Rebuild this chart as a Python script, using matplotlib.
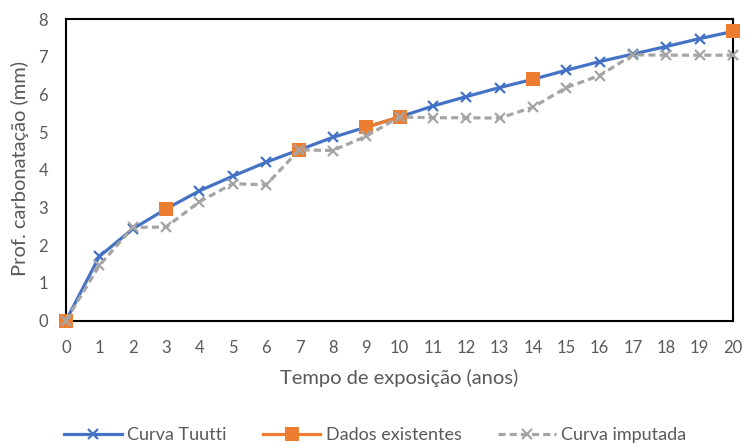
import numpy as np
import matplotlib
matplotlib.use("Agg")
import matplotlib.pyplot as plt

plt.rcParams['font.family'] = ['Lato', 'DejaVu Sans']

# exposure time (years)
anos = list(range(0, 21))

# Tuutti model curve
tuutti = [0.0, 1.70, 2.43, 2.96, 3.44, 3.83, 4.20, 4.53, 4.86, 5.13, 5.40,
          5.69, 5.94, 6.18, 6.40, 6.64, 6.87, 7.07, 7.27, 7.48, 7.67]

# measured data (missing years left empty)
nan = np.nan
existentes = [0.0, nan, nan, 2.96, nan, nan, nan, 4.53, nan, 5.13, 5.40,
              nan, nan, nan, 6.40, nan, nan, nan, nan, nan, 7.67]

# imputed curve
imputada = [0.0, 1.46, 2.47, 2.48, 3.15, 3.63, 3.60, 4.53, 4.51, 4.89, 5.40,
            5.38, 5.38, 5.37, 5.66, 6.18, 6.50, 7.05, 7.04, 7.04, 7.04]

BLUE = '#4472C4'
ORANGE = '#ED7D31'
GRAY = '#A5A5A5'
TXT = '#595959'

W, H = 745, 443
fig = plt.figure(figsize=(W/100, H/100), dpi=100)
ax = fig.add_axes([66/W, 1-320.5/H, 667/W, 301.5/H])

ax.plot(anos, tuutti, color=BLUE, lw=2.3, marker='x', ms=7, mew=1.6,
        label='Curva Tuutti', clip_on=False, zorder=3)
ax.plot(anos, existentes, color=ORANGE, lw=2.3, marker='s', ms=10, mew=0,
        label='Dados existentes', clip_on=False, zorder=4)
ax.plot(anos, imputada, color=GRAY, lw=2.3, ls=(0, (2.2, 1.3)), marker='x',
        ms=7, mew=1.6, label='Curva imputada', clip_on=False, zorder=5)

ax.set_xlim(0, 20)
ax.set_ylim(0, 8)
ax.set_xticks(range(0, 21))
ax.set_yticks(range(0, 9))
ax.tick_params(length=0, labelsize=12, colors=TXT)
ax.tick_params(axis='x', pad=14)
ax.tick_params(axis='y', pad=13)
for s in ax.spines.values():
    s.set_color('black')
    s.set_linewidth(1.5)

fig.text(399/W, 1-378/H, 'Tempo de exposição (anos)', fontsize=14.5,
         color=TXT, ha='center', va='center')
fig.text(20/W, 1-168/H, 'Prof. carbonatação (mm)', fontsize=14.5,
         color=TXT, ha='center', va='center', rotation=90)

leg = fig.legend(loc='center', bbox_to_anchor=(375/W, 1-435/H), ncol=3,
                 frameon=False, fontsize=13, labelcolor=TXT,
                 handlelength=3.2, columnspacing=2.0, handletextpad=0.3,
                 borderpad=0, borderaxespad=0)

fig.savefig('out.png', dpi=100)
